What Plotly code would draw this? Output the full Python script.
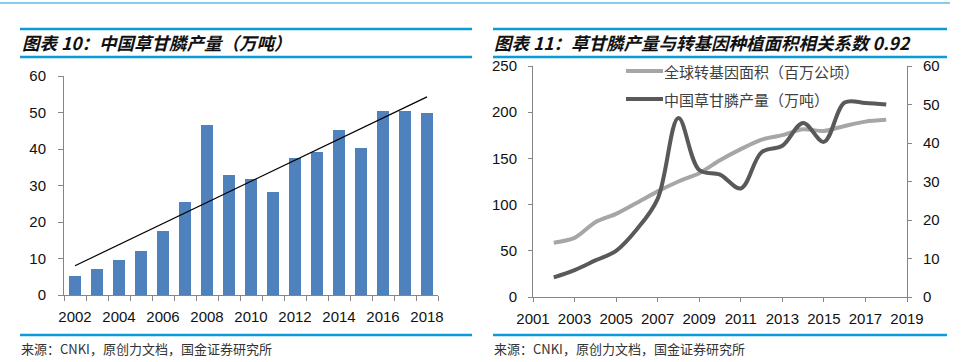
import numpy as np
import plotly.graph_objects as go

# ---- data ----
years = list(range(2002, 2019))
production = [5.1, 7.0, 9.5, 12.0, 17.6, 25.5, 46.5, 33.0, 31.8, 28.2,
              37.6, 39.3, 45.2, 40.3, 50.5, 50.4, 50.0]           # 万吨
gm_area = [58.7, 64.0, 81.0, 90.0, 102.0, 114.3, 125.0, 134.0, 148.0, 160.0,
           170.3, 175.2, 181.5, 179.7, 185.1, 189.8, 191.7]        # 百万公顷
left_xticks = [2002, 2004, 2006, 2008, 2010, 2012, 2014, 2016, 2018]
right_xticks = [2001, 2003, 2005, 2007, 2009, 2011, 2013, 2015, 2017, 2019]

title_left = "图表 10：中国草甘膦产量（万吨）"
title_right = "图表 11：草甘膦产量与转基因种植面积相关系数 0.92"
source_text = "来源：CNKI，原创力文档，国金证券研究所"
legend_area = "全球转基因面积（百万公顷）"
legend_prod = "中国草甘膦产量（万吨）"

W, H = 962, 362
def px(x): return x / W
def py(y): return 1 - y / H

# linear trend of production
coef = np.polyfit(years, production, 1)
trend_x = [years[0], years[-1]]
trend_y = list(np.polyval(coef, trend_x))

BLUE = "#0A9BDB"
AXIS = "#868686"
TICKFONT = dict(family="Liberation Sans, Arial", size=15, color="#111111")
CJK = "Noto Sans CJK SC"

fig = go.Figure()

fig.add_trace(go.Bar(x=years, y=production, width=0.53,
                     marker=dict(color="#4F81BD", line=dict(width=0)),
                     xaxis="x", yaxis="y", showlegend=False))
fig.add_trace(go.Scatter(x=trend_x, y=trend_y, mode="lines",
                         line=dict(color="#000000", width=1.2),
                         xaxis="x", yaxis="y", showlegend=False))

fig.add_trace(go.Scatter(x=years, y=gm_area, mode="lines",
                         line=dict(color="#A6A6A6", width=4, shape="spline", smoothing=0.8),
                         xaxis="x2", yaxis="y3", showlegend=False))
fig.add_trace(go.Scatter(x=years, y=production, mode="lines",
                         line=dict(color="#595959", width=4, shape="spline", smoothing=1.0),
                         xaxis="x2", yaxis="y4", showlegend=False))

common = dict(showline=True, linecolor=AXIS, linewidth=1, showgrid=False,
              zeroline=False, tickfont=TICKFONT, automargin=False)

fig.update_layout(
    width=W, height=H,
    margin=dict(l=0, r=0, t=0, b=0, autoexpand=False),
    paper_bgcolor="white", plot_bgcolor="white",
    bargap=0,
    xaxis=dict(domain=[px(64), px(438)], range=[2001.5, 2018.5],
               tickmode="array", tickvals=left_xticks, ticks="",
               ticklabelstandoff=8,
               minor=dict(tickmode="array",
                          tickvals=[y - 0.5 for y in years] + [years[-1] + 0.5],
                          ticks="outside", ticklen=5, tickcolor=AXIS, showgrid=False),
               anchor="y", **common),
    yaxis=dict(domain=[py(295), py(76)], range=[0, 60], dtick=10,
               ticks="outside", ticklen=5, tickcolor=AXIS,
               ticklabelstandoff=9, anchor="x", **common),
    xaxis2=dict(domain=[px(533), px(907)], range=[2001, 2019],
                tickmode="array", tickvals=right_xticks,
                ticks="outside", ticklen=4, tickcolor=AXIS,
                ticklabelstandoff=4, anchor="y3", **common),
    yaxis3=dict(domain=[py(297), py(66)], range=[0, 250], dtick=50,
                ticks="outside", ticklen=4, tickcolor=AXIS,
                ticklabelstandoff=8, anchor="x2", **common),
    yaxis4=dict(range=[0, 60], dtick=10, overlaying="y3", side="right",
                ticks="outside", ticklen=4, tickcolor=AXIS,
                ticklabelstandoff=8, anchor="x2", **common),
)

shapes = []
def hline(x0, x1, y, color, width):
    shapes.append(dict(type="line", xref="paper", yref="paper",
                       x0=px(x0), x1=px(x1), y0=py(y), y1=py(y),
                       line=dict(color=color, width=width)))

hline(0, 950, 3, BLUE, 1)
for x0, x1 in [(20, 472), (493, 947)]:
    hline(x0, x1, 29, BLUE, 2.5)
    hline(x0, x1, 57, BLUE, 2.5)
    hline(x0, x1, 335, BLUE, 2.5)
# legend samples
hline(626, 663, 71, "#A6A6A6", 4)
hline(626, 663, 99, "#595959", 4)
fig.update_layout(shapes=shapes)

annotations = []
def text(x, y, s, size, color, style="normal", weight="normal", family=CJK):
    annotations.append(dict(xref="paper", yref="paper", x=px(x), y=py(y),
                            xanchor="left", yanchor="middle", showarrow=False,
                            text=s, font=dict(family=family, size=size, color=color,
                                              style=style, weight=weight)))

text(20, 42, title_left, 17.5, "#111111", style="italic", weight="bold")
text(492, 42, title_right, 17.5, "#111111", style="italic", weight="bold")
text(19, 348, source_text, 13, "#333333")
text(492, 348, source_text, 13, "#333333")
text(662, 71, legend_area, 15, "#404040")
text(662, 99, legend_prod, 15, "#404040")
fig.update_layout(annotations=annotations)

fig.write_html("out.html", config={"displayModeBar": False},
               post_script="document.body.style.margin='0';document.body.style.overflow='hidden';")
